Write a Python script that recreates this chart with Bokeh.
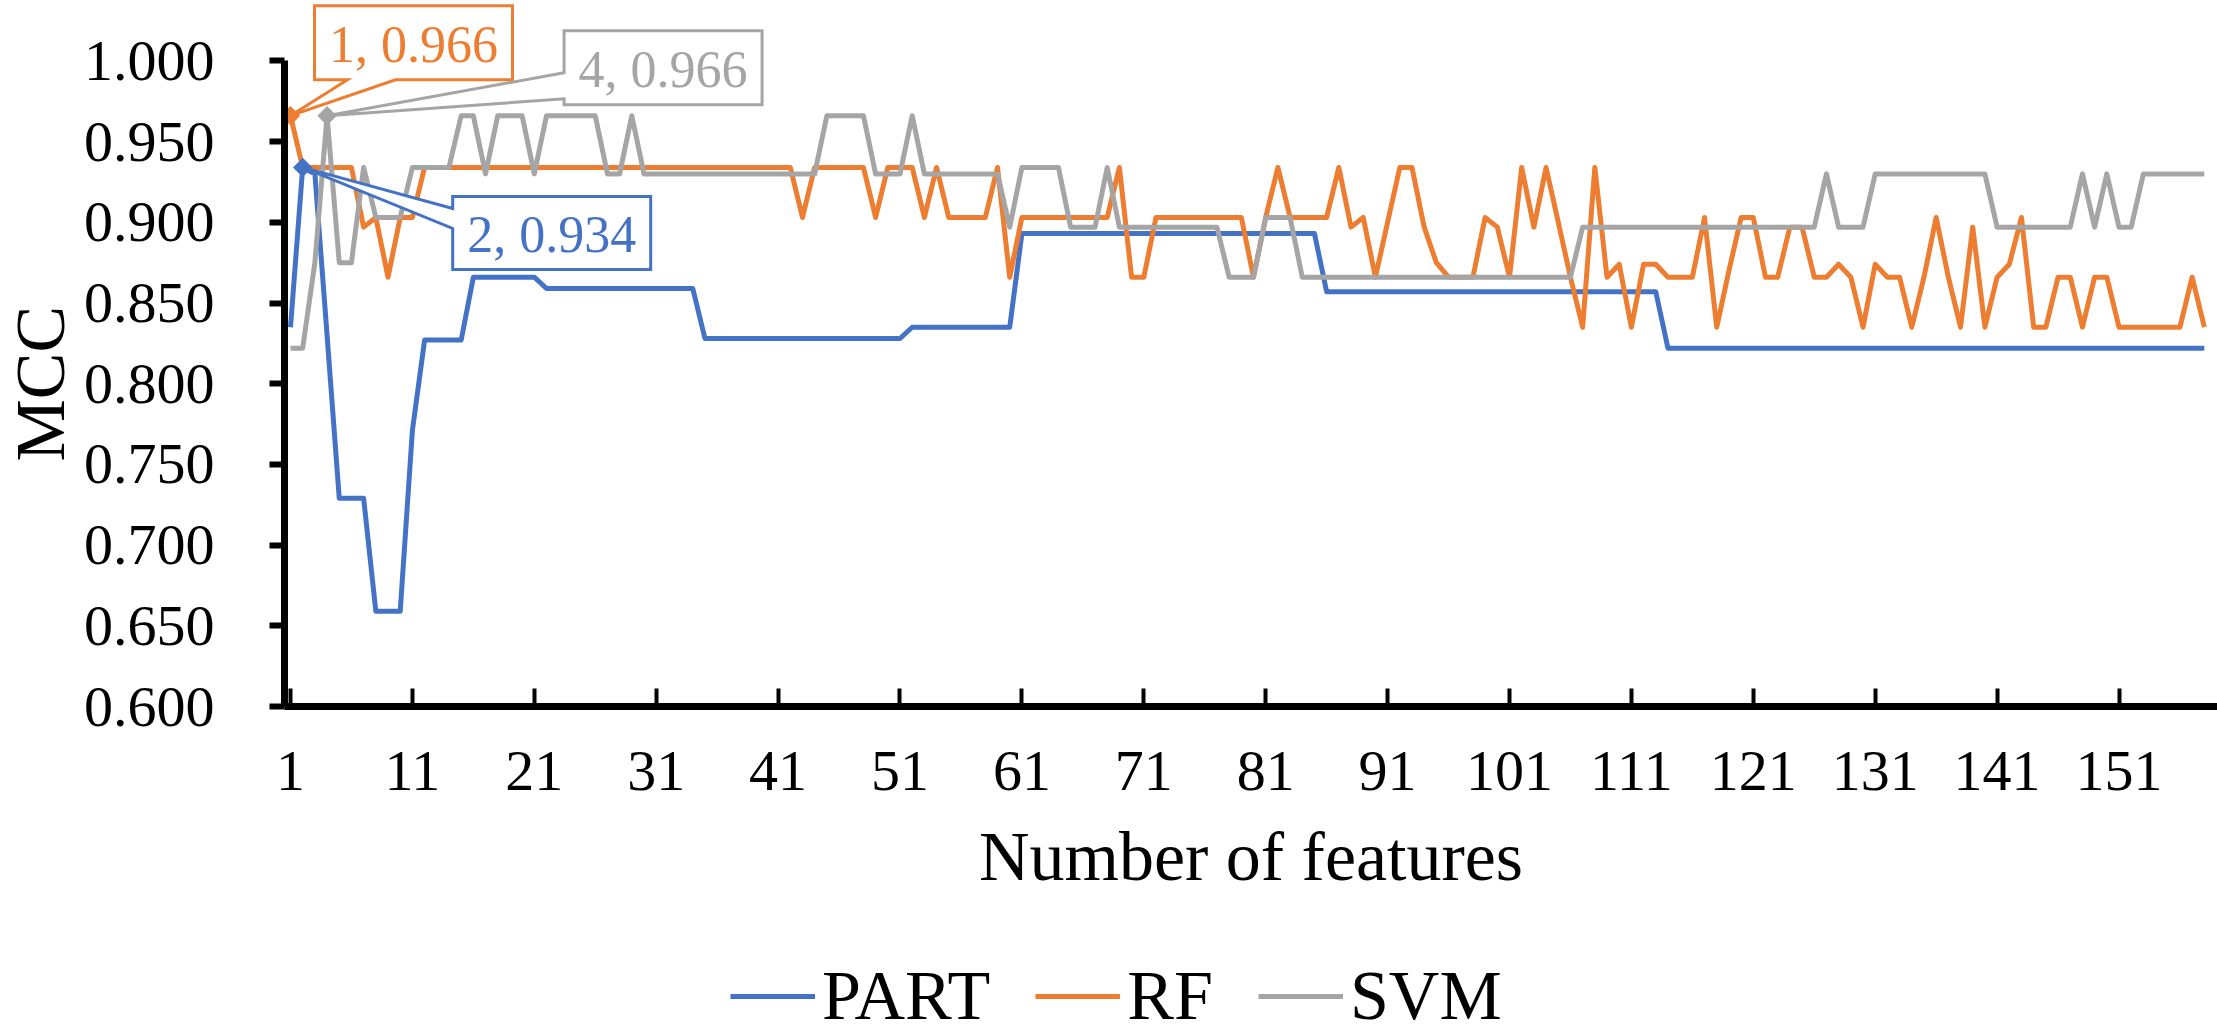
import math
from bokeh.plotting import figure
from bokeh.layouts import column, row
from bokeh.models import (Range1d, FixedTicker, PrintfTickFormatter, Legend,
                          LegendItem, ColumnDataSource, Spacer)
from bokeh.core.properties import value
from bokeh.embed import file_html
from bokeh.resources import INLINE

# ---------------- data ----------------
features = list(range(1, 159))

part = [
    0.835, 0.934, 0.930, 0.830, 0.729, 0.729, 0.729, 0.659, 0.659, 0.659,
    0.771, 0.827, 0.827, 0.827, 0.827, 0.866, 0.866, 0.866, 0.866, 0.866,
    0.866, 0.859, 0.859, 0.859, 0.859, 0.859, 0.859, 0.859, 0.859, 0.859,
    0.859, 0.859, 0.859, 0.859, 0.828, 0.828, 0.828, 0.828, 0.828, 0.828,
    0.828, 0.828, 0.828, 0.828, 0.828, 0.828, 0.828, 0.828, 0.828, 0.828,
    0.828, 0.835, 0.835, 0.835, 0.835, 0.835, 0.835, 0.835, 0.835, 0.835,
    0.893, 0.893, 0.893, 0.893, 0.893, 0.893, 0.893, 0.893, 0.893, 0.893,
    0.893, 0.893, 0.893, 0.893, 0.893, 0.893, 0.893, 0.893, 0.893, 0.893,
    0.893, 0.893, 0.893, 0.893, 0.893, 0.857, 0.857, 0.857, 0.857, 0.857,
    0.857, 0.857, 0.857, 0.857, 0.857, 0.857, 0.857, 0.857, 0.857, 0.857,
    0.857, 0.857, 0.857, 0.857, 0.857, 0.857, 0.857, 0.857, 0.857, 0.857,
    0.857, 0.857, 0.857, 0.822, 0.822, 0.822, 0.822, 0.822, 0.822, 0.822,
    0.822, 0.822, 0.822, 0.822, 0.822, 0.822, 0.822, 0.822, 0.822, 0.822,
    0.822, 0.822, 0.822, 0.822, 0.822, 0.822, 0.822, 0.822, 0.822, 0.822,
    0.822, 0.822, 0.822, 0.822, 0.822, 0.822, 0.822, 0.822, 0.822, 0.822,
    0.822, 0.822, 0.822, 0.822, 0.822, 0.822, 0.822, 0.822,
]

rf = [
    0.966, 0.934, 0.934, 0.934, 0.934, 0.934, 0.897, 0.903, 0.866, 0.903,
    0.903, 0.934, 0.934, 0.934, 0.934, 0.934, 0.934, 0.934, 0.934, 0.934,
    0.934, 0.934, 0.934, 0.934, 0.934, 0.934, 0.934, 0.934, 0.934, 0.934,
    0.934, 0.934, 0.934, 0.934, 0.934, 0.934, 0.934, 0.934, 0.934, 0.934,
    0.934, 0.934, 0.903, 0.934, 0.934, 0.934, 0.934, 0.934, 0.903, 0.934,
    0.934, 0.934, 0.903, 0.934, 0.903, 0.903, 0.903, 0.903, 0.934, 0.866,
    0.903, 0.903, 0.903, 0.903, 0.903, 0.903, 0.903, 0.903, 0.934, 0.866,
    0.866, 0.903, 0.903, 0.903, 0.903, 0.903, 0.903, 0.903, 0.903, 0.866,
    0.903, 0.934, 0.903, 0.903, 0.903, 0.903, 0.934, 0.897, 0.903, 0.866,
    0.900, 0.934, 0.934, 0.897, 0.875, 0.866, 0.866, 0.866, 0.903, 0.897,
    0.866, 0.934, 0.897, 0.934, 0.900, 0.866, 0.835, 0.934, 0.866, 0.874,
    0.835, 0.874, 0.874, 0.866, 0.866, 0.866, 0.903, 0.835, 0.870, 0.903,
    0.903, 0.866, 0.866, 0.897, 0.897, 0.866, 0.866, 0.874, 0.866, 0.835,
    0.874, 0.866, 0.866, 0.835, 0.866, 0.903, 0.866, 0.835, 0.897, 0.835,
    0.866, 0.874, 0.903, 0.835, 0.835, 0.866, 0.866, 0.835, 0.866, 0.866,
    0.835, 0.835, 0.835, 0.835, 0.835, 0.835, 0.866, 0.835,
]

svm = [
    0.822, 0.822, 0.875, 0.966, 0.875, 0.875, 0.934, 0.903, 0.903, 0.903,
    0.934, 0.934, 0.934, 0.934, 0.966, 0.966, 0.930, 0.966, 0.966, 0.966,
    0.930, 0.966, 0.966, 0.966, 0.966, 0.966, 0.930, 0.930, 0.966, 0.930,
    0.930, 0.930, 0.930, 0.930, 0.930, 0.930, 0.930, 0.930, 0.930, 0.930,
    0.930, 0.930, 0.930, 0.930, 0.966, 0.966, 0.966, 0.966, 0.930, 0.930,
    0.930, 0.966, 0.930, 0.930, 0.930, 0.930, 0.930, 0.930, 0.930, 0.897,
    0.934, 0.934, 0.934, 0.934, 0.897, 0.897, 0.897, 0.934, 0.897, 0.897,
    0.897, 0.897, 0.897, 0.897, 0.897, 0.897, 0.897, 0.866, 0.866, 0.866,
    0.903, 0.903, 0.903, 0.866, 0.866, 0.866, 0.866, 0.866, 0.866, 0.866,
    0.866, 0.866, 0.866, 0.866, 0.866, 0.866, 0.866, 0.866, 0.866, 0.866,
    0.866, 0.866, 0.866, 0.866, 0.866, 0.866, 0.897, 0.897, 0.897, 0.897,
    0.897, 0.897, 0.897, 0.897, 0.897, 0.897, 0.897, 0.897, 0.897, 0.897,
    0.897, 0.897, 0.897, 0.897, 0.897, 0.897, 0.930, 0.897, 0.897, 0.897,
    0.930, 0.930, 0.930, 0.930, 0.930, 0.930, 0.930, 0.930, 0.930, 0.930,
    0.897, 0.897, 0.897, 0.897, 0.897, 0.897, 0.897, 0.930, 0.897, 0.930,
    0.897, 0.897, 0.930, 0.930, 0.930, 0.930, 0.930, 0.930,
]

series_names = ["PART", "RF", "SVM"]
series_values = [part, rf, svm]
series_colors = ["#4472C4", "#ED7D31", "#A5A5A5"]

x_ticks = [1, 11, 21, 31, 41, 51, 61, 71, 81, 91, 101, 111, 121, 131, 141, 151]
y_ticks = [0.600, 0.650, 0.700, 0.750, 0.800, 0.850, 0.900, 0.950, 1.000]

x_title = "Number of features"
y_title = "MCC"

# ---------------- layout ----------------
FONT = "Liberation Serif"
W_TOTAL = 2217
W_TITLE = 80        # strip holding the y title
H_MAIN, H_LEG = 940, 96
FL_ABS = 284        # frame left on the page
FL = FL_ABS - W_TITLE
FH = 706
W = W_TOTAL - W_TITLE
FW = W - FL
X0, X1 = 0.508, 159.08
Y0 = 0.6
Y1 = 0.6 + 706 / 1614
SX = FW / (X1 - X0)
SY = FH / (Y1 - Y0)


def bare(fig):
    fig.outline_line_color = None
    fig.xgrid.grid_line_color = None
    fig.ygrid.grid_line_color = None
    fig.background_fill_color = "white"
    fig.border_fill_color = "white"


p = figure(width=W, height=H_MAIN, title=None,
           x_range=Range1d(X0, X1), y_range=Range1d(Y0, Y1),
           output_backend="svg", toolbar_location=None,
           min_border_left=FL, min_border_right=0,
           min_border_top=0, min_border_bottom=H_MAIN - FH)
bare(p)

xa = p.xaxis[0]
xa.ticker = FixedTicker(ticks=x_ticks)
xa.axis_line_width = 7
xa.axis_line_color = "black"
xa.major_tick_in = 18
xa.major_tick_out = 0
xa.major_tick_line_width = 4
xa.major_tick_line_color = "black"
xa.minor_tick_line_color = None
xa.major_label_text_font = FONT
xa.major_label_text_font_size = "58px"
xa.major_label_text_color = "black"
xa.major_label_standoff = 45
xa.axis_label = x_title
xa.axis_label_text_font = FONT
xa.axis_label_text_font_size = "70px"
xa.axis_label_text_font_style = "normal"
xa.axis_label_text_color = "black"
xa.axis_label_standoff = 25

ya = p.yaxis[0]
ya.ticker = FixedTicker(ticks=y_ticks)
ya.formatter = PrintfTickFormatter(format="%.3f")
ya.bounds = (y_ticks[0], y_ticks[-1])
ya.axis_line_width = 7
ya.axis_line_color = "black"
ya.major_tick_in = 0
ya.major_tick_out = 15
ya.major_tick_line_width = 6
ya.major_tick_line_color = "black"
ya.minor_tick_line_color = None
ya.major_label_text_font = FONT
ya.major_label_text_font_size = "58px"
ya.major_label_text_color = "black"
ya.major_label_standoff = 55

# lines
for name, vals, col in zip(series_names, series_values, series_colors):
    src = ColumnDataSource(dict(x=features, y=vals))
    p.line("x", "y", source=src, line_color=col, line_width=5,
           line_join="round")

# callout annotations (pixel offsets from the highlighted point)
callouts = {
    "RF":   dict(box=(24, 222, -110, -36), tail=("bottom", 57, 105)),
    "SVM":  dict(box=(237, 435, -85, -11), tail=("left", -43, -17)),
    "PART": dict(box=(150, 348, 29, 102), tail=("left", 41, 61)),
}
for name, vals, col in zip(series_names, series_values, series_colors):
    idx = vals.index(max(vals))
    xp, yp = features[idx], vals[idx]

    def pt(dx, dy):
        return xp + dx / SX, yp - dy / SY

    L, R, T, B = callouts[name]["box"]
    kind, t1, t2 = callouts[name]["tail"]
    if kind == "bottom":
        poly = [(L, T), (R, T), (R, B), (t2, B), (0, 0), (t1, B), (L, B)]
    else:
        poly = [(L, T), (R, T), (R, B), (L, B), (L, t2), (0, 0), (L, t1)]
    pts = [pt(a, b) for a, b in poly]
    p.patch([q[0] for q in pts], [q[1] for q in pts], fill_color="white",
            line_color=col, line_width=3, line_join="miter")
    p.scatter([xp], [yp], marker="square", angle=math.pi / 4, size=13,
              fill_color=col, line_color=col)
    cx, cy = pt((L + R) / 2, (T + B) / 2 + 2)
    p.text([cx], [cy], text=[f"{xp}, {yp:.3f}"], text_color=col,
           text_font=value(FONT), text_font_size=value("52px"),
           text_align="center", text_baseline="middle")

# y title strip on the left (same vertical scale as the chart)
t = figure(width=W_TITLE, height=H_MAIN, title=None,
           x_range=Range1d(0, W_TITLE), y_range=Range1d(Y0, Y1),
           output_backend="svg", toolbar_location=None,
           x_axis_location=None, y_axis_location=None,
           min_border_left=0, min_border_right=0,
           min_border_top=0, min_border_bottom=H_MAIN - FH)
bare(t)
t.text([W_TITLE / 2], [(y_ticks[0] + y_ticks[-1]) / 2], text=[y_title],
       angle=math.pi / 2, text_color="black", text_font=value(FONT),
       text_font_size=value("70px"), text_align="center",
       text_baseline="middle")

# legend strip below the chart
lg = figure(width=W, height=H_LEG, title=None,
            x_range=Range1d(0, 1), y_range=Range1d(0, 1),
            output_backend="svg", toolbar_location=None,
            x_axis_location=None, y_axis_location=None,
            min_border_left=FL, min_border_right=0,
            min_border_top=0, min_border_bottom=0)
bare(lg)
items = []
for name, col in zip(series_names, series_colors):
    r = lg.line([float("nan")], [float("nan")], line_color=col, line_width=5)
    items.append(LegendItem(label=name, renderers=[r]))
legend = Legend(items=items, orientation="horizontal",
                location=(730 - FL_ABS, 0),
                glyph_width=85, glyph_height=78, label_height=78,
                label_standoff=7, spacing=45, padding=0, margin=0,
                border_line_color=None, background_fill_alpha=0,
                label_text_font=FONT, label_text_font_size="70px",
                label_text_color="black")
lg.add_layout(legend, "center")

layout = column(row(t, p, spacing=0),
                row(Spacer(width=W_TITLE, height=H_LEG), lg, spacing=0),
                spacing=0)
open("out.html", "w").write(file_html(layout, INLINE))
